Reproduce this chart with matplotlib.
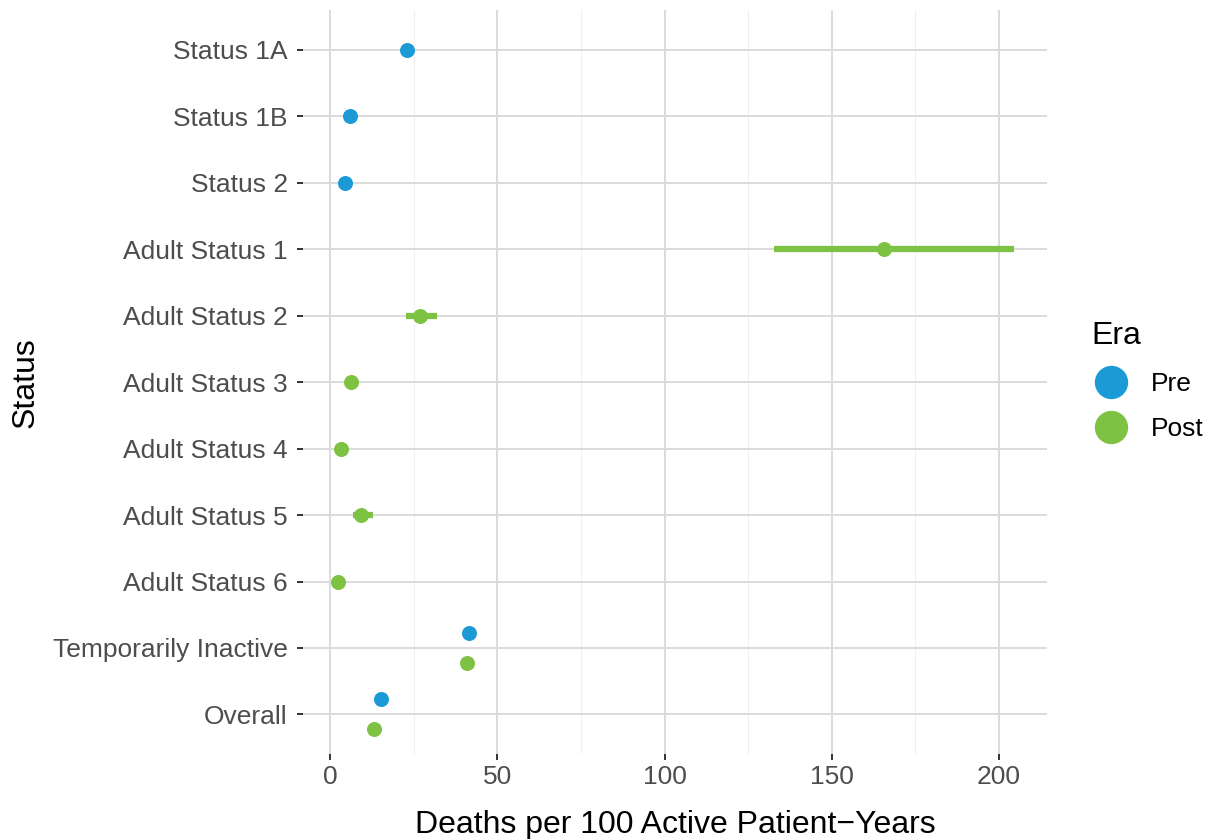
import numpy as np
import matplotlib
matplotlib.use("Agg")
import matplotlib.pyplot as plt
from matplotlib.lines import Line2D

plt.rcParams['font.family'] = ['Liberation Sans', 'DejaVu Sans']

statuses = ["Status 1A", "Status 1B", "Status 2", "Adult Status 1", "Adult Status 2",
            "Adult Status 3", "Adult Status 4", "Adult Status 5", "Adult Status 6",
            "Temporarily Inactive", "Overall"]

# Pre era
pre_cats = ["Status 1A", "Status 1B", "Status 2", "Temporarily Inactive", "Overall"]
pre_rate = [23.0, 6.0, 4.5, 41.6, 15.2]
pre_lo = [21.9, 5.4, 4.0, 40.4, 14.8]
pre_hi = [24.2, 6.7, 5.1, 42.8, 15.6]

# Post era
post_cats = ["Adult Status 1", "Adult Status 2", "Adult Status 3", "Adult Status 4",
             "Adult Status 5", "Adult Status 6", "Temporarily Inactive", "Overall"]
post_rate = [165.6, 26.9, 6.3, 3.3, 9.3, 2.4, 41.0, 13.2]
post_lo = [132.7, 22.7, 5.5, 2.8, 6.9, 1.9, 39.6, 12.7]
post_hi = [204.5, 32.0, 7.2, 3.9, 12.9, 3.0, 42.5, 13.8]

era_names = ["Pre", "Post"]
era_colors = ["#1B9AD6", "#7DC242"]

n = len(statuses)
ypos = {s: n - i for i, s in enumerate(statuses)}
both = set(pre_cats) & set(post_cats)
dodge = 0.225

fig = plt.figure(figsize=(12.13, 8.39), dpi=100)
ax = fig.add_axes([0.2498, 0.101, 0.6134, 0.887])

for k, (cats, rate, lo, hi) in enumerate([(pre_cats, pre_rate, pre_lo, pre_hi),
                                          (post_cats, post_rate, post_lo, post_hi)]):
    off = dodge if k == 0 else -dodge
    ys = np.array([ypos[c] + (off if c in both else 0) for c in cats])
    ax.hlines(ys, lo, hi, color=era_colors[k], lw=4.5, zorder=3)
    ax.plot(rate, ys, 'o', color=era_colors[k], ms=10.8, mew=0, zorder=4)

ax.set_xlim(-8.1, 214.4)
ax.set_ylim(0.4, n + 0.6)
ax.set_yticks([ypos[s] for s in statuses])
ax.set_yticklabels(statuses)
ax.set_xticks([0, 50, 100, 150, 200])
ax.set_xticks([25, 75, 125, 175], minor=True)

for sp in ax.spines.values():
    sp.set_visible(False)
ax.grid(True, which='major', color='#DBDBDB', lw=1.4, zorder=0)
ax.grid(True, which='minor', axis='x', color='#EFEFEF', lw=0.8, zorder=0)
ax.set_axisbelow(True)
ax.tick_params(axis='both', which='major', labelsize=19, labelcolor='#4D4D4D',
               color='#333333', length=4, width=1.4)
ax.tick_params(axis='y', which='major', pad=7)
ax.tick_params(axis='x', which='major', pad=4)
ax.tick_params(axis='x', which='minor', length=0)

ax.set_xlabel("Deaths per 100 Active Patient\u2212Years", fontsize=23, labelpad=15)
ax.set_ylabel("Status", fontsize=23, labelpad=9)

handles = [Line2D([], [], marker='o', ls='none', color=c, ms=24, mew=0) for c in era_colors]
leg = fig.legend(handles, era_names, title="Era", loc='center left',
                 bbox_to_anchor=(0.892, 0.546), frameon=False, fontsize=19,
                 title_fontsize=23, handletextpad=0.75, labelspacing=0.8,
                 borderpad=0.35, borderaxespad=0, handlelength=1.5)
leg._legend_box.align = "left"

fig.savefig("out.png", dpi=100)
